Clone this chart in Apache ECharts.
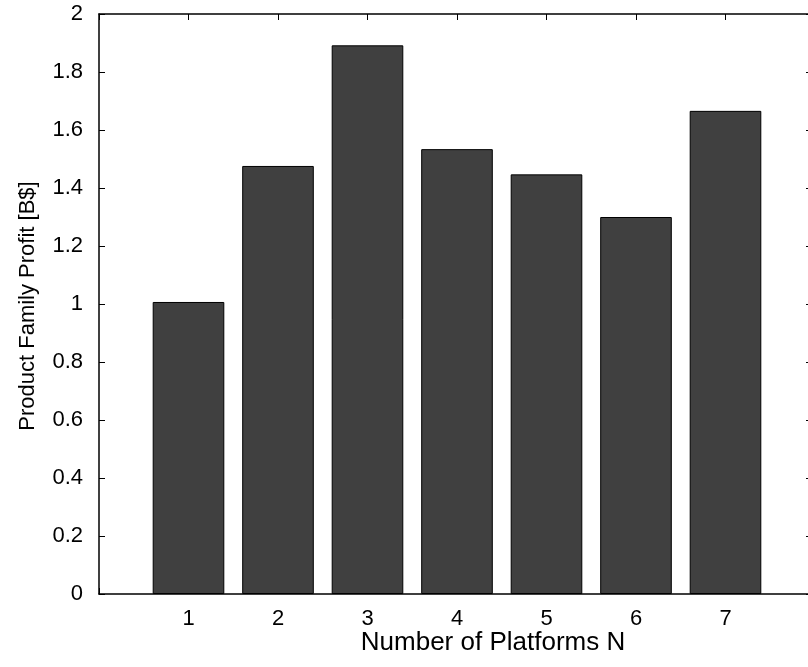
<!DOCTYPE html>
<html><head><meta charset="utf-8">
<script src="https://cdn.jsdelivr.net/npm/echarts@6/dist/echarts.min.js"></script>
<style>html,body{margin:0;padding:0;background:#fff;overflow:hidden;width:808px;height:667px}#c{width:830px;height:667px}</style>
</head><body><div id="c"></div>
<script>
var platforms = [1, 2, 3, 4, 5, 6, 7];
var profits = [1.007, 1.476, 1.892, 1.534, 1.447, 1.300, 1.666];
var xTickLabels = ['1', '2', '3', '4', '5', '6', '7'];
var xName = 'Number of Platforms N';
var yName = 'Product Family Profit [B$]';

var chart = echarts.init(document.getElementById('c'), null, {renderer: 'canvas'});
var font = 'Liberation Sans, Arial, sans-serif';
chart.setOption({
  animation: false,
  backgroundColor: '#fff',
  grid: {left: 99, top: 14, width: 716, height: 580, containLabel: false},
  xAxis: [{
    type: 'value', min: 0, max: 8, interval: 1, position: 'bottom',
    axisLine: {onZero: false, lineStyle: {color: '#000', width: 1.5}},
    axisTick: {inside: true, length: 6, lineStyle: {color: '#000'}},
    splitLine: {show: false},
    axisLabel: {color: '#000', fontSize: 22, fontFamily: font, margin: 14,
      formatter: function (v) { var i = platforms.indexOf(v); return i >= 0 ? xTickLabels[i] : ''; }}
  }, {
    type: 'value', min: 0, max: 8, interval: 1, position: 'top',
    axisLine: {onZero: false, lineStyle: {color: '#000', width: 1.5}},
    axisTick: {inside: true, length: 6, lineStyle: {color: '#000'}},
    axisLabel: {show: false}, splitLine: {show: false}
  }],
  yAxis: [{
    type: 'value', min: 0, max: 2, interval: 0.2, position: 'left',
    axisLine: {show: true, onZero: false, lineStyle: {color: '#000', width: 1.5}},
    axisTick: {show: true, inside: true, length: 6, lineStyle: {color: '#000'}},
    splitLine: {show: false},
    axisLabel: {color: '#000', fontSize: 22, fontFamily: font, margin: 16}
  }, {
    type: 'value', min: 0, max: 2, interval: 0.2, position: 'right',
    axisLine: {show: true, onZero: false, lineStyle: {color: '#000', width: 1.5}},
    axisTick: {show: true, inside: true, length: 9, lineStyle: {color: '#000'}},
    splitLine: {show: false}, axisLabel: {show: false}
  }],
  series: [{
    type: 'bar', xAxisIndex: 0, yAxisIndex: 0,
    data: platforms.map(function (p, i) { return [p, profits[i]]; }),
    barWidth: '80%',
    itemStyle: {color: '#404040', borderColor: '#000', borderWidth: 1}
  }],
  graphic: [{
    type: 'text', x: 493, y: 643, style: {
      text: xName, align: 'center', verticalAlign: 'middle',
      font: '26px ' + font, fill: '#000'}
  }, {
    type: 'text', rotation: Math.PI / 2, x: 28, y: 306, style: {
      text: yName, align: 'center', verticalAlign: 'middle',
      font: '22px ' + font, fill: '#000'}
  }]
});
</script></body></html>
